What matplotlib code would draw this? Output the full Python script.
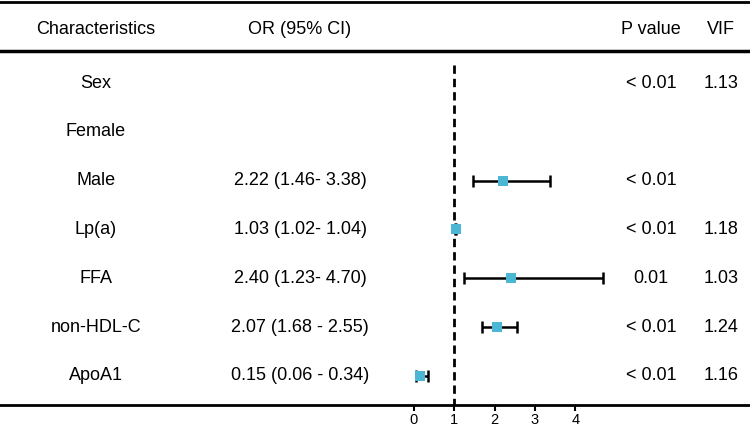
import numpy as np
import matplotlib.pyplot as plt

plt.rcParams['font.family'] = ['Liberation Sans', 'DejaVu Sans']

# table data
labels = ["Sex", "Female", "Male", "Lp(a)", "FFA", "non-HDL-C", "ApoA1"]
or_text = ["", "", "2.22 (1.46- 3.38)", "1.03 (1.02- 1.04)", "2.40 (1.23- 4.70)",
           "2.07 (1.68 - 2.55)", "0.15 (0.06 - 0.34)"]
p_text = ["< 0.01", "", "< 0.01", "< 0.01", "0.01", "< 0.01", "< 0.01"]
vif_text = ["1.13", "", "", "1.18", "1.03", "1.24", "1.16"]
odds = np.array([np.nan, np.nan, 2.22, 1.03, 2.40, 2.07, 0.15])
lower = np.array([np.nan, np.nan, 1.46, 1.02, 1.23, 1.68, 0.06])
upper = np.array([np.nan, np.nan, 3.38, 1.04, 4.70, 2.55, 0.34])
xticks = [0, 1, 2, 3, 4]

W, H = 750, 428
fig = plt.figure(figsize=(W / 100, H / 100), dpi=100)
ax = fig.add_axes([0, 23 / H, 1, 405 / H])

# pixel layout helpers
x0, xunit = 414, 40.3
row0, rowh = 83, 48.83
ax.set_xlim(-x0 / xunit, (W - x0) / xunit)
ax.set_ylim((405 - row0) / rowh, -row0 / rowh)

def py(p):
    return (p - row0) / rowh

y = np.arange(len(labels))

# reference line
ax.plot([1, 1], [py(65), py(405)], color='black', lw=2, ls=(0, (3, 1.8)), zorder=1)

ax.errorbar(odds, y, xerr=[odds - lower, upper - odds], fmt='none', ecolor='black',
            elinewidth=1.8, capsize=4.5, capthick=1.8, zorder=2)
ax.scatter(odds, y, marker='s', s=62, color='#4BB7D5', zorder=3, linewidths=0)

# horizontal rules
ax.axhline(py(2), color='black', lw=2)
ax.axhline(py(51), color='black', lw=2.5)

tr = ax.get_yaxis_transform()
fs = 13
cols = [96 / W, 300 / W, 651 / W, 721 / W]
headers = ["Characteristics", "OR (95% CI)", "P value", "VIF"]
for cx, h in zip(cols, headers):
    ax.text(cx, py(29), h, transform=tr, ha='center', va='center', fontsize=fs)
for i in range(len(labels)):
    for cx, t in zip(cols, [labels[i], or_text[i], p_text[i], vif_text[i]]):
        ax.text(cx, i, t, transform=tr, ha='center', va='center', fontsize=fs)

for s in ['top', 'left', 'right']:
    ax.spines[s].set_visible(False)
ax.spines['bottom'].set_linewidth(2)
ax.set_xticks(xticks)
ax.set_xticklabels([str(t) for t in xticks], fontsize=10.5)
ax.tick_params(axis='x', length=4.5, width=1.5, pad=1)
ax.set_yticks([])

fig.savefig('out.png', dpi=100)
